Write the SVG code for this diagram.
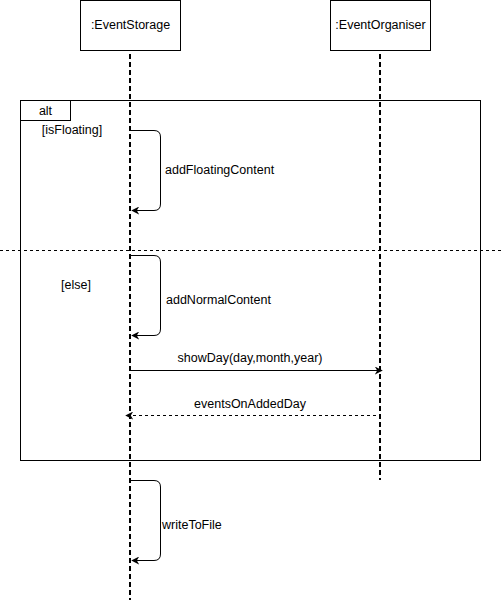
<svg xmlns="http://www.w3.org/2000/svg" width="503" height="606" viewBox="0 0 503 606">
<style>
text{font-family:"Liberation Sans",Arial,sans-serif;font-size:12.5px;fill:#000}
.box{fill:#fff;stroke:#000;stroke-width:1}
.life{stroke:#000;stroke-width:2;stroke-dasharray:5 3;fill:none}
.msg{stroke:#000;stroke-width:1;fill:none}
.ret{stroke:#000;stroke-width:1;stroke-dasharray:3 3;fill:none}
</style>
<defs>
<marker id="ah" viewBox="0 0 10 10" refX="9" refY="5" markerWidth="8" markerHeight="8" markerUnits="userSpaceOnUse" orient="auto">
<path d="M0,0 L10,5 L0,10 L3,5 Z" fill="#000"/>
</marker>
</defs>
<rect x="0" y="0" width="503" height="606" fill="#fff"/>
<g id="frame">
<rect class="box" x="20.5" y="100.5" width="460" height="360" fill="none"/>
<rect class="box" x="20.5" y="100.5" width="50" height="20"/>
<text x="45.5" y="114.5" text-anchor="middle">alt</text>
<line x1="0" y1="250.5" x2="503" y2="250.5" stroke="#000" stroke-width="1" stroke-dasharray="3 3"/>
<text x="72" y="134" text-anchor="middle">[isFloating]</text>
<text x="76" y="289" text-anchor="middle">[else]</text>
</g>
<g id="lifelines">
<line class="life" x1="130" y1="54" x2="130" y2="600"/>
<line class="life" x1="380" y1="54" x2="380" y2="480"/>
</g>
<g id="EventStorage">
<rect class="box" x="80.5" y="0.5" width="100" height="50"/>
<text x="130.5" y="29" text-anchor="middle">:EventStorage</text>
</g>
<g id="EventOrganiser">
<rect class="box" x="330.5" y="0.5" width="100" height="50"/>
<text x="380.5" y="29" text-anchor="middle">:EventOrganiser</text>
</g>
<g id="connectors">
<path class="msg" d="M130,130.5 H154 Q160.5,130.5 160.5,137 V204 Q160.5,210.5 154,210.5 H132" marker-end="url(#ah)"/>
<path class="msg" d="M130,255.5 H154 Q160.5,255.5 160.5,262 V329 Q160.5,335.5 154,335.5 H132" marker-end="url(#ah)"/>
<path class="msg" d="M130,370.5 H382" marker-end="url(#ah)"/>
<path class="ret" d="M376,415.5 H126" marker-end="url(#ah)"/>
<path class="msg" d="M130,480.5 H154 Q160.5,480.5 160.5,487 V554 Q160.5,560.5 154,560.5 H132" marker-end="url(#ah)"/>
<text x="165" y="174">addFloatingContent</text>
<text x="166" y="304">addNormalContent</text>
<text x="250" y="362" text-anchor="middle">showDay(day,month,year)</text>
<text x="250" y="408" text-anchor="middle">eventsOnAddedDay</text>
<text x="162" y="529">writeToFile</text>
</g>
</svg>
